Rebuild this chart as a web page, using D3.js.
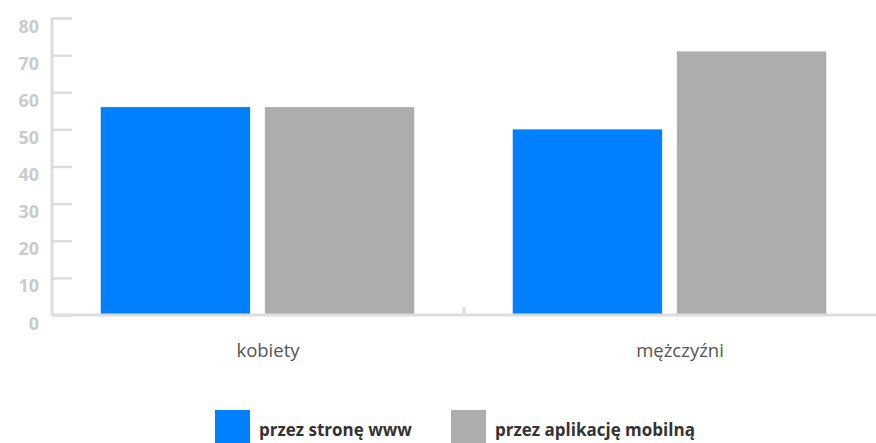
<!DOCTYPE html>
<html>
<head>
<meta charset="utf-8">
<script src="https://cdn.jsdelivr.net/npm/d3@7/dist/d3.min.js"></script>
<style>
  html, body { margin: 0; padding: 0; background: #fff; }
  svg { display: block; font-family: "Open Sans", "Noto Sans", sans-serif; }
</style>
</head>
<body>
<svg id="chart" width="876" height="443"></svg>
<script>
// Grouped bar chart: how women and men use the service
const categories = ["kobiety", "mężczyźni"];
const seriesNames = ["przez stronę www", "przez aplikację mobilną"];
const seriesColors = ["#007fff", "#adadad"];
const webValues = [56, 50];
const appValues = [56, 71];
const yTicks = [0, 10, 20, 30, 40, 50, 60, 70, 80];

const svg = d3.select("#chart");
const plot = { left: 52, right: 876, top: 18, bottom: 315 };

const x0 = d3.scaleBand()
  .domain(categories)
  .range([plot.left, plot.right])
  .paddingInner(0)
  .paddingOuter(0);

const x1 = d3.scaleBand()
  .domain(seriesNames)
  .range([0, x0.bandwidth()])
  .paddingInner(0.09)
  .paddingOuter(0.3);

const y = d3.scaleLinear().domain([0, 80]).range([plot.bottom, plot.top]);

const axisColor = "#dddddd";

// Bars
const rows = categories.map((c, i) => ({ cat: c, vals: [webValues[i], appValues[i]] }));
const groups = svg.append("g").selectAll("g")
  .data(rows).join("g")
  .attr("transform", d => `translate(${x0(d.cat)},0)`);

groups.selectAll("rect")
  .data(d => d.vals.map((v, k) => ({ name: seriesNames[k], v, k })))
  .join("rect")
  .attr("x", d => x1(d.name) - 0.5)
  .attr("width", x1.bandwidth())
  .attr("y", d => y(d.v))
  .attr("height", d => y(0) - y(d.v))
  .attr("fill", d => seriesColors[d.k]);

// Y axis
const yAxis = d3.axisLeft(y).tickValues(yTicks).tickSize(-20).tickPadding(0);
const gy = svg.append("g").attr("transform", `translate(${plot.left},0)`).call(yAxis);
gy.select(".domain")
  .attr("d", `M0,${plot.top}V${plot.bottom}`)
  .attr("stroke", axisColor).attr("stroke-width", 3);
gy.selectAll(".tick line").attr("stroke", axisColor).attr("stroke-width", 2.5);
gy.selectAll(".tick text")
  .attr("x", -13)
  .attr("dy", "0.78em")
  .attr("fill", "#cbcbcb")
  .attr("font-size", 18)
  .attr("font-weight", 700)
  .attr("font-family", "'Open Sans', sans-serif");

// X axis
const xAxis = d3.axisBottom(x0).tickSize(0).tickPadding(0);
const gx = svg.append("g").attr("transform", `translate(0,${plot.bottom})`).call(xAxis);
gx.select(".domain")
  .attr("d", `M${plot.left},0H${plot.right}`)
  .attr("stroke", axisColor).attr("stroke-width", 3);
gx.selectAll(".tick text")
  .attr("dx", 10)
  .attr("y", 42)
  .attr("dy", 0)
  .attr("fill", "#555555")
  .attr("font-size", 18.5)
  .attr("font-family", "'Open Sans', sans-serif");

// Divider between the two category groups
gx.append("line")
  .attr("x1", x0("mężczyźni")).attr("x2", x0("mężczyźni"))
  .attr("y1", -8).attr("y2", 0)
  .attr("stroke", axisColor).attr("stroke-width", 3);

// Legend
const legendX = [215, 451];
const legend = svg.append("g").selectAll("g")
  .data(seriesNames).join("g")
  .attr("transform", (d, i) => `translate(${legendX[i]},410)`);
legend.append("rect")
  .attr("width", 35).attr("height", 35)
  .attr("fill", (d, i) => seriesColors[i]);
legend.append("text")
  .attr("x", 44).attr("y", 26)
  .attr("fill", "#333333")
  .attr("font-size", 17)
  .attr("font-weight", 700)
  .attr("font-family", "'Open Sans', sans-serif")
  .text(d => d);
</script>
</body>
</html>
